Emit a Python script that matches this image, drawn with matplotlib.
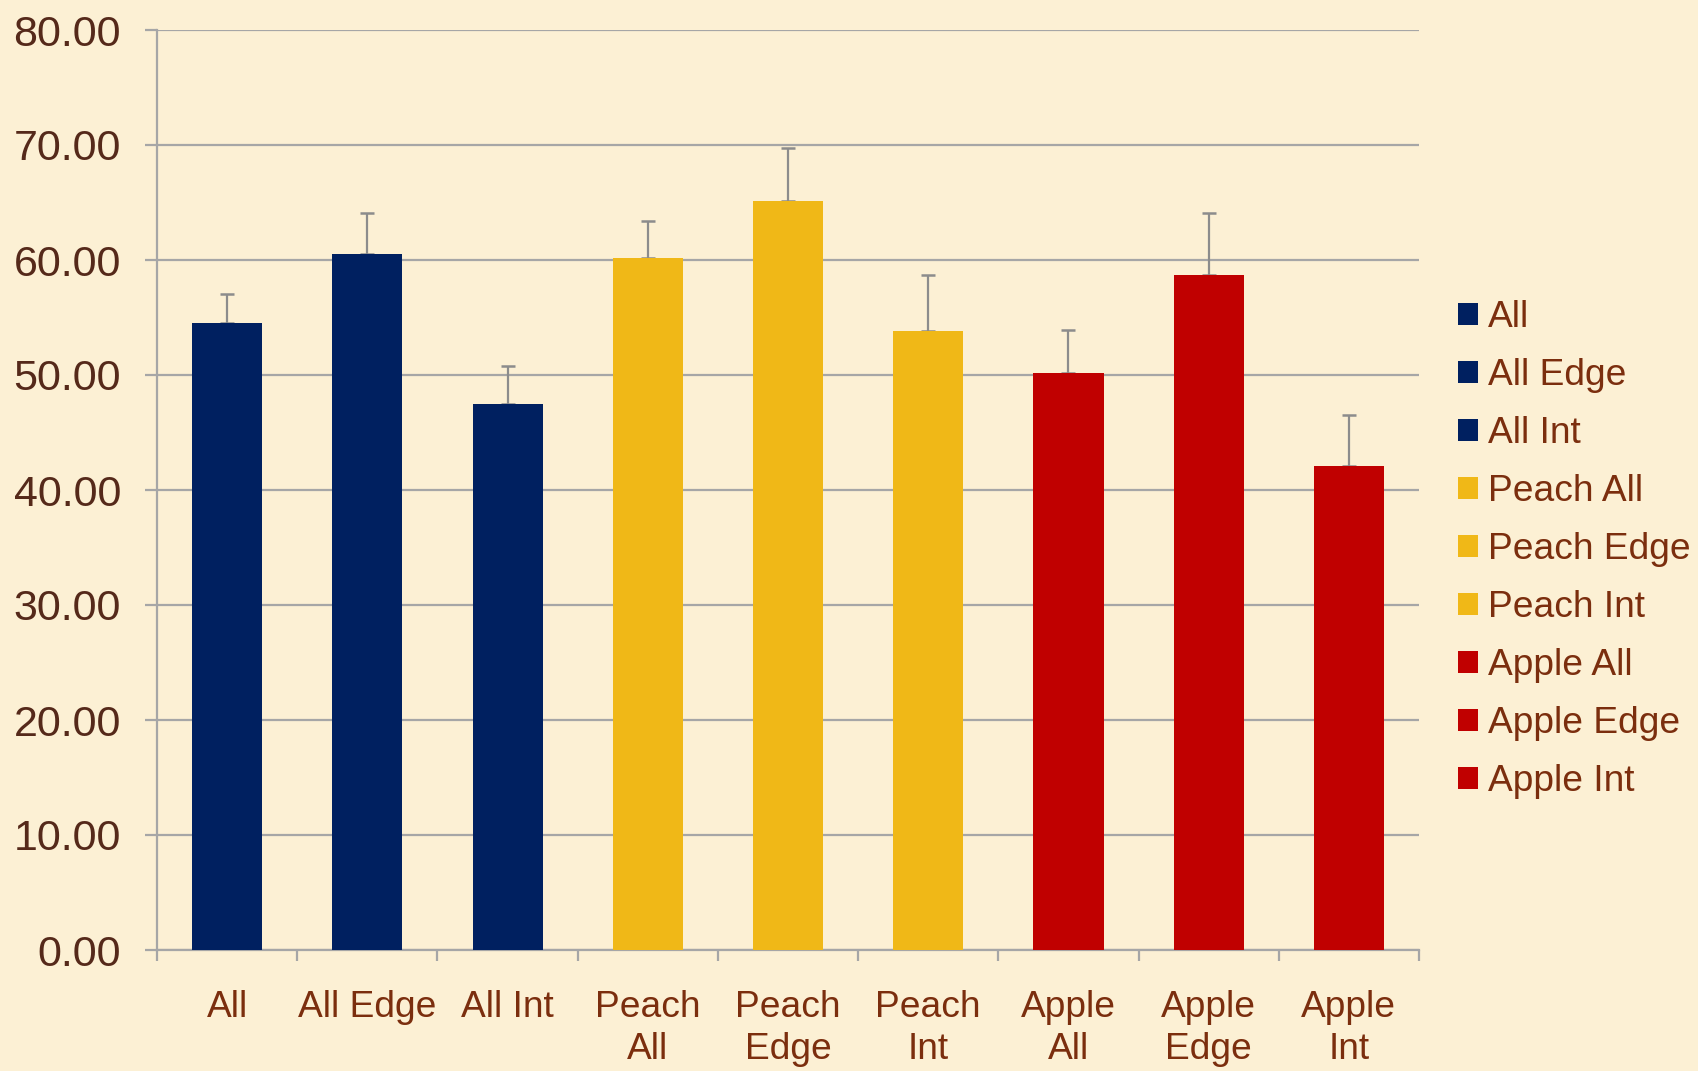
import matplotlib
matplotlib.use("Agg")
import matplotlib.pyplot as plt
import numpy as np

categories = ["All", "All Edge", "All Int", "Peach\nAll", "Peach\nEdge", "Peach\nInt",
              "Apple\nAll", "Apple\nEdge", "Apple\nInt"]
legend_labels = ["All", "All Edge", "All Int", "Peach All", "Peach Edge", "Peach Int",
                 "Apple All", "Apple Edge", "Apple Int"]
values = [54.5, 60.5, 47.5, 60.2, 65.1, 53.85, 50.17, 58.7, 42.1]
errors = [2.55, 3.6, 3.25, 3.2, 4.6, 4.85, 3.73, 5.36, 4.45]
colors = ["#002060", "#002060", "#002060", "#F0B817", "#F0B817", "#F0B817",
          "#C00000", "#C00000", "#C00000"]
yticks = [0, 10, 20, 30, 40, 50, 60, 70, 80]

plt.rcParams['font.family'] = ['Liberation Sans', 'DejaVu Sans']
bg = "#FCF0D4"
grid_c = "#A6A6A6"
ytxt = "#55291A"
xtxt = "#7B2E0E"

fig = plt.figure(figsize=(16.98, 10.71), dpi=100, facecolor=bg)
ax = fig.add_axes([157/1698, 1 - 950/1071, (1419-157)/1698, (950-30)/1071])
ax.set_facecolor(bg)

x = np.arange(len(categories))
for i in range(len(categories)):
    ax.bar(x[i], values[i], width=0.5, color=colors[i], label=legend_labels[i], zorder=3)
ax.errorbar(x, values, yerr=[np.zeros(len(values)), errors], fmt='none',
            ecolor="#8C8C8C", elinewidth=1.6, capsize=4.8, capthick=1.8, zorder=2)

ax.set_xlim(-0.5, len(categories) - 0.5)
ax.set_ylim(0, 80)
ax.set_yticks(yticks)
ax.set_yticklabels([f"{v:.2f}" for v in yticks])
ax.yaxis.grid(True, color=grid_c, linewidth=1.6, zorder=0)
ax.set_axisbelow(True)

for s in ["top", "right"]:
    ax.spines[s].set_visible(False)
for s in ["left", "bottom"]:
    ax.spines[s].set_color(grid_c)
    ax.spines[s].set_linewidth(1.6)

ax.set_xticks(x)
ax.set_xticklabels(categories, linespacing=1.25)
ax.set_xticks(np.arange(-0.5, len(categories)), minor=True)
ax.tick_params(axis='x', which='major', length=0, pad=29, labelsize=26.7, labelcolor=xtxt)
ax.tick_params(axis='x', which='minor', length=8, width=1.6, color=grid_c, direction='out')
ax.tick_params(axis='y', length=9, width=1.6, color=grid_c, pad=17, labelsize=31, labelcolor=ytxt)

leg = ax.legend(loc='upper left', bbox_to_anchor=(1458/1698, 1 - 300/1071),
                bbox_transform=fig.transFigure, frameon=False, fontsize=26.7,
                handlelength=0.55, handleheight=0.55, handletextpad=0.25,
                labelspacing=0.62, borderpad=0, borderaxespad=0)
for t in leg.get_texts():
    t.set_color(xtxt)

fig.savefig("out.png", dpi=100, facecolor=bg)
